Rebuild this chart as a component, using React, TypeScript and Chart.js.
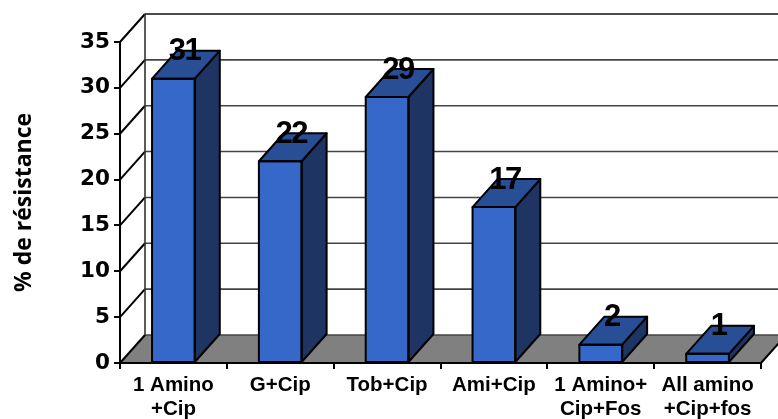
import React, { useEffect, useRef } from "react";
import { Chart, registerables } from "chart.js";

Chart.register(...registerables);

const categories: string[][] = [
  ["1 Amino", "+Cip"],
  ["G+Cip"],
  ["Tob+Cip"],
  ["Ami+Cip"],
  ["1 Amino+", "Cip+Fos"],
  ["All amino", "+Cip+fos"],
];
const resistance: number[] = [31, 22, 29, 17, 2, 1];
const axisTitle = "% de résistance";

const DX = 25;
const DY = -28;
const FRONT = "#3568C8";
const TOP = "#284E96";
const SIDE = "#1E3463";
const FLOOR = "#808080";

const poly = (ctx: CanvasRenderingContext2D, pts: number[][], fill?: string, stroke?: string, lw = 2) => {
  ctx.beginPath();
  pts.forEach(([x, y], i) => (i ? ctx.lineTo(x, y) : ctx.moveTo(x, y)));
  ctx.closePath();
  if (fill) {
    ctx.fillStyle = fill;
    ctx.fill();
  }
  if (stroke) {
    ctx.strokeStyle = stroke;
    ctx.lineWidth = lw;
    ctx.stroke();
  }
};

const wallPlugin = {
  id: "wall3d",
  beforeDraw(chart: any) {
    const { ctx, chartArea: a, scales } = chart;
    const y = scales.y;
    ctx.save();
    const b = y.getPixelForValue(0);
    poly(ctx, [[a.left, b], [a.right, b], [a.right + DX, b + DY], [a.left + DX, b + DY]], FLOOR);
    ctx.lineCap = "butt";
    y.ticks.forEach((t: any) => {
      const p = y.getPixelForValue(t.value);
      ctx.strokeStyle = t.value === y.max ? "#111" : "#444";
      ctx.lineWidth = 1.6;
      ctx.beginPath();
      ctx.moveTo(a.left + DX, p + DY);
      ctx.lineTo(a.right + DX, p + DY);
      ctx.stroke();
      ctx.strokeStyle = "#000";
      ctx.lineWidth = 2;
      ctx.beginPath();
      ctx.moveTo(a.left, p);
      ctx.lineTo(a.left + DX, p + DY);
      ctx.stroke();
    });
    ctx.strokeStyle = "#333";
    ctx.lineWidth = 1.6;
    ctx.beginPath();
    ctx.moveTo(a.left + DX, y.getPixelForValue(y.max) + DY);
    ctx.lineTo(a.left + DX, b + DY);
    ctx.stroke();
    ctx.strokeStyle = "#000";
    ctx.lineWidth = 2;
    ctx.beginPath();
    ctx.moveTo(a.right, b);
    ctx.lineTo(a.right + DX, b + DY);
    ctx.stroke();
    ctx.restore();
  },
};

const barPlugin = {
  id: "bar3d",
  afterDatasetsDraw(chart: any) {
    const { ctx } = chart;
    ctx.save();
    ctx.lineJoin = "round";
    chart.getDatasetMeta(0).data.forEach((bar: any) => {
      const l = bar.x - bar.width / 2;
      const r = bar.x + bar.width / 2;
      const t = bar.y;
      const b = bar.base;
      poly(ctx, [[r, t], [r + DX, t + DY], [r + DX, b + DY], [r, b]], SIDE, "#000");
      poly(ctx, [[l, t], [r, t], [r + DX, t + DY], [l + DX, t + DY]], TOP, "#000");
      poly(ctx, [[l, t], [r, t], [r, b], [l, b]], undefined, "#000");
    });
    ctx.fillStyle = "#000";
    ctx.textAlign = "center";
    ctx.textBaseline = "middle";
    ctx.font = 'bold 31px "Liberation Sans"';
    (ctx as any).letterSpacing = "-1.5px";
    chart.getDatasetMeta(0).data.forEach((bar: any, i: number) => {
      ctx.fillText(String(resistance[i]), bar.x + 11, bar.y + DY + 1);
    });
    ctx.restore();
  },
};

export default function App() {
  const ref = useRef<HTMLCanvasElement>(null);
  useEffect(() => {
    document.body.style.margin = "0";
    const chart = new Chart(ref.current!, {
      type: "bar",
      data: {
        labels: categories,
        datasets: [
          {
            data: resistance,
            backgroundColor: FRONT,
            categoryPercentage: 1,
            barPercentage: 0.4,
          },
        ],
      },
      options: {
        animation: false,
        responsive: false,
        devicePixelRatio: 1,
        layout: { padding: { top: 42, right: 17, left: 0, bottom: 0 } },
        plugins: { legend: { display: false }, tooltip: { enabled: false } },
        scales: {
          x: {
            offset: true,
            afterFit(s: any) {
              s.height = 56;
            },
            grid: {
              offset: true,
              drawOnChartArea: false,
              drawTicks: true,
              tickLength: 6,
              color: "#000",
              lineWidth: 2,
            },
            border: { color: "#000", width: 2 },
            ticks: {
              color: "#000",
              autoSkip: false,
              maxRotation: 0,
              padding: 5,
              font: { family: "Liberation Sans", weight: "bold", size: 20.5, lineHeight: 1.15 },
            },
          },
          y: {
            min: 0,
            max: 35,
            afterFit(s: any) {
              s.width = 120;
            },
            grid: {
              drawOnChartArea: false,
              drawTicks: true,
              tickLength: 6,
              color: "#000",
              lineWidth: 2,
            },
            border: { color: "#000", width: 2 },
            ticks: {
              stepSize: 5,
              color: "#000",
              padding: 4,
              font: { family: "DejaVu Sans", weight: "bold", size: 21.5 },
            },
            title: {
              display: true,
              text: axisTitle,
              color: "#000",
              padding: { top: 11, bottom: 0 },
              font: { family: "Open Sans", weight: "bold", size: 23 },
            },
          },
        },
      },
      plugins: [wallPlugin, barPlugin],
    });
    return () => chart.destroy();
  }, []);
  return (
    <canvas
      ref={ref}
      width={778}
      height={419}
      style={{ position: "absolute", left: 0, top: 0, width: 778, height: 419 }}
    />
  );
}
